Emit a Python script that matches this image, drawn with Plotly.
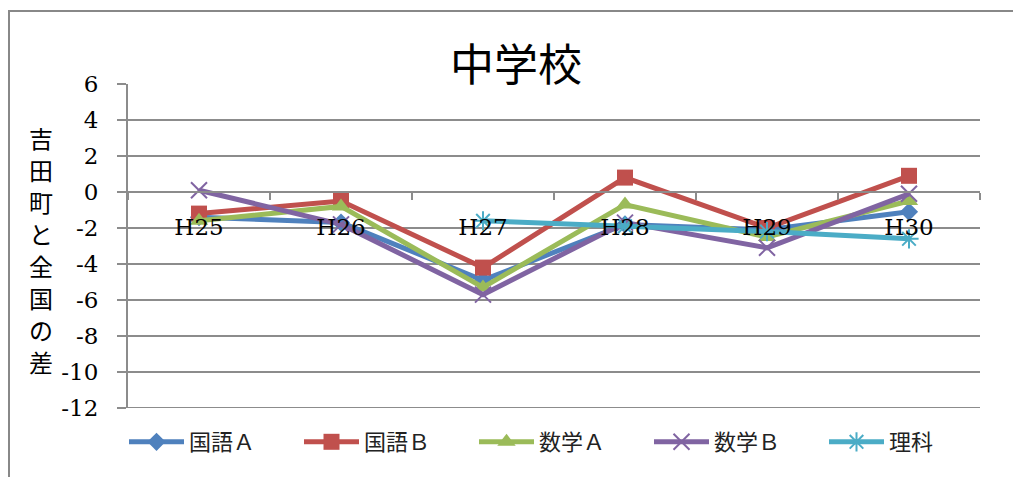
import plotly.graph_objects as go

categories = ["H25", "H26", "H27", "H28", "H29", "H30"]
kokugo_a = [-1.4, -1.7, -4.9, -1.8, -2.1, -1.1]
kokugo_b = [-1.2, -0.5, -4.2, 0.8, -2.0, 0.9]
sugaku_a = [-1.6, -0.8, -5.3, -0.7, -2.5, -0.5]
sugaku_b = [0.1, -1.8, -5.7, -1.7, -3.1, -0.1]
rika = [None, None, -1.6, -1.9, -2.2, -2.6]

y_tick_values = [6, 4, 2, 0, -2, -4, -6, -8, -10, -12]
y_tick_labels = ["6", "4", "2", "0", "-2", "-4", "-6", "-8", "-10", "-12"]

series_names = ["国語Ａ", "国語Ｂ", "数学Ａ", "数学Ｂ", "理科"]
series_values = [kokugo_a, kokugo_b, sugaku_a, sugaku_b, rika]
colors = ["#4F81BD", "#C0504D", "#9BBB59", "#8064A2", "#4BACC6"]
symbols = ["diamond", "square", "triangle-up", "x-thin-open", "asterisk-open"]
sizes = [14, 16, 16, 16, 16]

W, H = 1013, 477
L, R, T, B = 128, 980, 84, 408
grid = "#8c8c8c"
serif = "DejaVu Serif"
cjk = "Noto Sans CJK JP"

fig = go.Figure()
for name, vals, c, s, sz in zip(series_names, series_values, colors, symbols, sizes):
    open_sym = s.endswith("open")
    fig.add_trace(go.Scatter(
        x=categories, y=vals, name=name, mode="lines+markers",
        line=dict(color=c, width=5),
        marker=dict(symbol=s, size=sz, color=c,
                    line=dict(color=c, width=2 if open_sym else 0)),
        connectgaps=False,
    ))

def px2x(p):
    return (p - L) / (R - L)

def py2y(p):
    return (B - p) / (B - T)

ymin, ymax = -12, 6
zero_pos = (0 - ymin) / (ymax - ymin)

fig.update_layout(
    width=W, height=H,
    margin=dict(l=L, r=W - R, t=T, b=H - B, pad=0, autoexpand=False),
    paper_bgcolor="white", plot_bgcolor="white",
    showlegend=True,
    legend=dict(orientation="h", x=px2x(124), y=py2y(442), xanchor="left", yanchor="middle",
                font=dict(family=cjk, size=22, color="#222"),
                entrywidth=105, entrywidthmode="pixels", itemwidth=55,
                bgcolor="rgba(0,0,0,0)"),
    xaxis=dict(type="category", categoryorder="array", categoryarray=categories,
               range=[-0.5, 5.5], anchor="free", position=zero_pos,
               showline=True, linecolor=grid, linewidth=2,
               ticks="outside", tickson="boundaries", ticklen=7, tickwidth=2, tickcolor=grid,
               showgrid=False, zeroline=False,
               tickfont=dict(family=serif, size=23, color="black"),
               ticklabelstandoff=14),
    yaxis=dict(range=[ymin, ymax], tickmode="array", tickvals=y_tick_values, ticktext=y_tick_labels,
               showgrid=True, gridcolor=grid, gridwidth=2,
               showline=True, linecolor=grid, linewidth=2,
               ticks="outside", ticklen=9, tickwidth=2, tickcolor=grid,
               zeroline=False,
               tickfont=dict(family=serif, size=23, color="black"),
               ticklabelstandoff=14),
)

# bottom gridline (plotly omits the gridline on the plot edge)
fig.add_shape(type="line", xref="paper", yref="y", x0=0, x1=1, y0=ymin, y1=ymin,
              line=dict(color=grid, width=2), layer="below")

fig.add_annotation(text="中学校", xref="paper", yref="paper",
                   x=px2x(516), y=py2y(62), xanchor="center", yanchor="middle",
                   showarrow=False, font=dict(family=cjk, size=44, color="black"))

ytitle_chars = list("吉田町と全国の差")
for i, ch in enumerate(ytitle_chars):
    fig.add_annotation(text=ch, xref="paper", yref="paper",
                       x=px2x(41), y=py2y(137 + 32 * i), xanchor="center", yanchor="middle",
                       showarrow=False, font=dict(family=cjk, size=24, color="black"))

fig.add_shape(type="rect", xref="paper", yref="paper",
              x0=px2x(9), y0=py2y(520), x1=px2x(1080), y1=py2y(11),
              line=dict(color="#888888", width=2), fillcolor="rgba(0,0,0,0)", layer="below")

fig.write_html("out.html")
